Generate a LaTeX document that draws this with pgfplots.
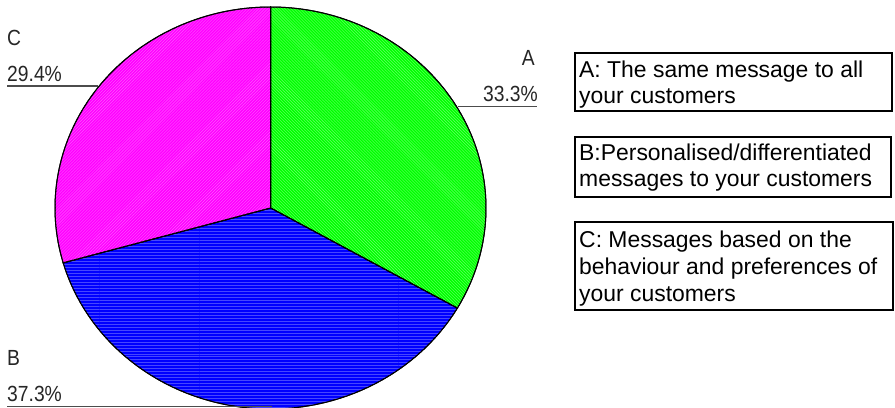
\documentclass[border=0pt]{standalone}
\usepackage{fontspec}
\setmainfont{Liberation Sans}
\newfontfamily\labfont[FakeStretch=0.88]{Liberation Sans}
\usepackage{pgfplots}
\usepackage{pgfplotstable}
\pgfplotsset{compat=1.18}
\usetikzlibrary{patterns}

\pgfplotstableread{
label value
A 33.3
B 37.3
C 29.4
}\piedata

\begin{document}
\begin{tikzpicture}
\pgfplotstablegetelem{0}{value}\of\piedata \let\va\pgfplotsretval
\pgfplotstablegetelem{1}{value}\of\piedata \let\vb\pgfplotsretval
\pgfplotstablegetelem{2}{value}\of\piedata \let\vc\pgfplotsretval
\pgfmathsetmacro{\aS}{90}
\pgfmathsetmacro{\aE}{\aS-3.6*\va}
\pgfmathsetmacro{\bE}{\aE-3.6*\vb}
\pgfmathsetmacro{\cE}{\bE-3.6*\vc}
\begin{axis}[width=895bp,height=408bp,scale only axis,
  xmin=0,xmax=895,ymin=-408,ymax=0,hide axis]
\addplot[draw=black, line width=1bp, fill={rgb,255:red,0;green,255;blue,0},
  postaction={pattern=north west lines, pattern color={rgb,255:red,110;green,255;blue,110}},
  domain=\aE:\aS, samples=90, variable=\t]
  ({270.5+215.5*cos(t)}, {-208+201*sin(t)}) -- (axis cs:270.5,-208) -- cycle;
\addplot[draw=black, line width=1bp, fill={rgb,255:red,0;green,0;blue,255},
  postaction={pattern=horizontal lines, pattern color={rgb,255:red,70;green,70;blue,255}},
  domain=\bE:\aE, samples=90, variable=\t]
  ({270.5+215.5*cos(t)}, {-208+201*sin(t)}) -- (axis cs:270.5,-208) -- cycle;
\addplot[draw=black, line width=1bp, fill={rgb,255:red,255;green,0;blue,255},
  postaction={pattern=north east lines, pattern color={rgb,255:red,255;green,90;blue,255}},
  domain=\cE:\bE, samples=90, variable=\t]
  ({270.5+215.5*cos(t)}, {-208+201*sin(t)}) -- (axis cs:270.5,-208) -- cycle;

% slice labels
\begin{scope}[every node/.style={font=\labfont\fontsize{22}{26}\selectfont, inner sep=0pt, text=black!85}]
\node[anchor=base west] at (axis cs:7,-46) {C};
\node[anchor=base west] at (axis cs:7,-81.5) {29.4\%};
\node[anchor=base east] at (axis cs:535,-66) {A};
\node[anchor=base east] at (axis cs:538,-102) {33.3\%};
\node[anchor=base west] at (axis cs:7,-366) {B};
\node[anchor=base west] at (axis cs:7,-401.5) {37.3\%};
\end{scope}
\draw[black!70, line width=1.5bp] (axis cs:7,-86) -- (axis cs:98,-86);
\draw[black!70, line width=1.5bp] (axis cs:458,-106.5) -- (axis cs:537,-106.5);
\draw[black!70, line width=1.5bp] (axis cs:7,-406.5) -- (axis cs:272,-406.5);

% legend boxes
\draw[line width=2.2bp] (axis cs:575,-53) rectangle (axis cs:892,-111);
\draw[line width=2.2bp] (axis cs:575,-137) rectangle (axis cs:891,-197);
\draw[line width=2.2bp] (axis cs:575,-222) rectangle (axis cs:893,-310);
\begin{scope}[every node/.style={font=\fontsize{23}{27}\selectfont, inner sep=0pt, anchor=base west}]
\node at (axis cs:579,-78) {A: The same message to all};
\node at (axis cs:579,-104) {your customers};
\node at (axis cs:579,-161) {B:Personalised/differentiated};
\node at (axis cs:579,-187) {messages to your customers};
\node at (axis cs:579,-247.5) {C: Messages based on the};
\node at (axis cs:579,-275) {behaviour and preferences of};
\node at (axis cs:579,-302) {your customers};
\end{scope}
\coordinate (bbBL) at (axis cs:0,-408);
\coordinate (bbTR) at (axis cs:895,0);
\end{axis}
\pgfresetboundingbox
\path[use as bounding box] (bbBL) rectangle (bbTR);
\end{tikzpicture}
\end{document}
